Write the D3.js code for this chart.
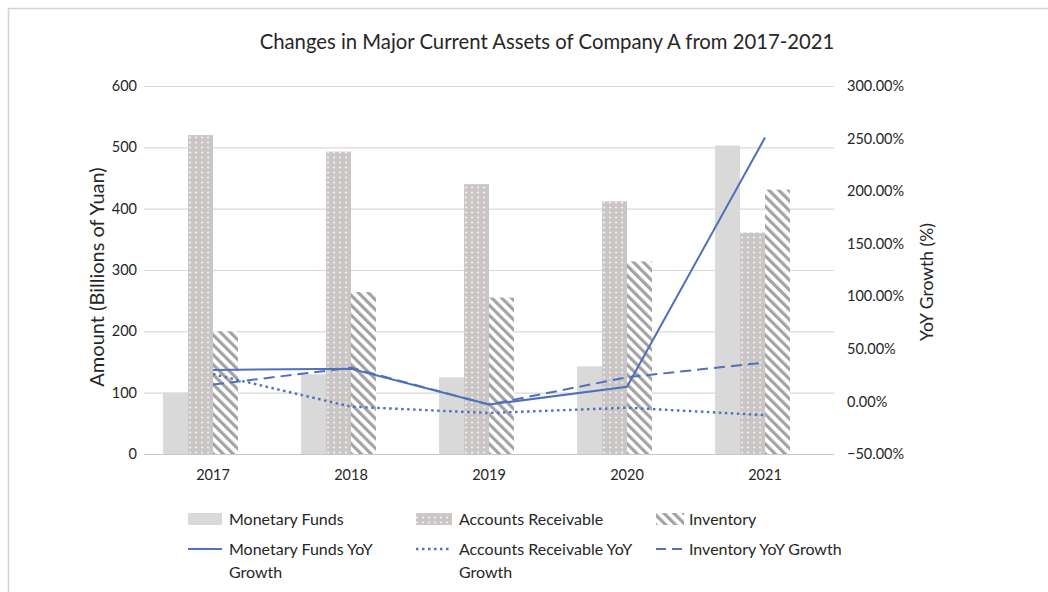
<!DOCTYPE html>
<html>
<head>
<meta charset="utf-8">
<script src="https://cdn.jsdelivr.net/npm/d3@7"></script>
<style>
  html, body { margin: 0; padding: 0; background: #fff; }
  svg text { font-family: Lato, "Open Sans", "Liberation Sans", sans-serif; fill: #262626; }
</style>
</head>
<body>
<svg id="chart" width="1048" height="592"></svg>
<script>
// Years on the category axis
const years = ["2017", "2018", "2019", "2020", "2021"];

// Balances, billions of yuan
const monetaryFunds = [100, 130, 125, 143, 503];
const accountsReceivable = [520, 493, 440, 412, 361];
const inventory = [200, 264, 255, 314, 431];

// Year-over-year growth, percent
const monetaryFundsYoY = [30, 31, -3, 14, 251];
const accountsReceivableYoY = [26, -5, -11, -6, -13];
const inventoryYoY = [16, 32, -3, 23, 37];

// Axis ticks
const amountTicks = [0, 100, 200, 300, 400, 500, 600];
const growthTicks = [-50, 0, 50, 100, 150, 200, 250, 300];

const barSeries = ["Monetary Funds", "Accounts Receivable", "Inventory"];
const lineSeries = ["Monetary Funds YoY Growth", "Accounts Receivable YoY Growth", "Inventory YoY Growth"];

const svg = d3.select("#chart");
const lineColor = "#5170b9";

// Frame
svg.append("rect")
  .attr("x", 8.5).attr("y", 8.5).attr("width", 1060).attr("height", 600)
  .attr("fill", "#fff").attr("stroke", "#d4d4d4").attr("stroke-width", 1.5);

// Fill patterns
const defs = svg.append("defs");
const dots = defs.append("pattern")
  .attr("id", "dots").attr("patternUnits", "userSpaceOnUse")
  .attr("width", 6).attr("height", 5);
dots.append("rect").attr("width", 6).attr("height", 5).attr("fill", "#cbc6c6");
dots.append("circle").attr("cx", 3).attr("cy", 2.5).attr("r", 1.1).attr("fill", "#f4f2f2");

const stripes = defs.append("pattern")
  .attr("id", "stripes").attr("patternUnits", "userSpaceOnUse")
  .attr("width", 7).attr("height", 7)
  .attr("patternTransform", "rotate(-45)");
stripes.append("rect").attr("width", 7).attr("height", 7).attr("fill", "#fff");
stripes.append("rect").attr("width", 3.2).attr("height", 7).attr("fill", "#a3a3a3");

const fills = ["#d9d9d9", "url(#dots)", "url(#stripes)"];
const dashes = [null, "2.5,3.5", "11,6"];

// Scales: each year has four bar slots, the last one left empty
const plotLeft = 144, plotRight = 834, plotTop = 86, plotBottom = 454;
const x = d3.scaleBand().domain(years).range([plotLeft, plotRight])
  .paddingInner(0.2764).paddingOuter(0.1382);
const xInner = d3.scaleBand().domain([...barSeries, ""]).range([0, x.bandwidth()]);
const yLeft = d3.scaleLinear().domain([0, 600]).range([plotBottom, plotTop]);
const yRight = d3.scaleLinear().domain([-50, 300]).range([plotBottom, plotTop]);

// Gridlines
svg.append("g").selectAll("line").data(amountTicks).join("line")
  .attr("x1", plotLeft).attr("x2", plotRight)
  .attr("y1", d => yLeft(d) + 0.5).attr("y2", d => yLeft(d) + 0.5)
  .attr("stroke", d => d === 0 ? "#c8c8c8" : "#d9d9d9").attr("stroke-width", 1.2);

// Left axis
const leftAxis = svg.append("g").attr("transform", `translate(${plotLeft},0)`)
  .call(d3.axisLeft(yLeft).tickValues(amountTicks).tickSize(0).tickPadding(7));
leftAxis.select(".domain").remove();
leftAxis.selectAll("text").attr("font-size", 14.5).style("font-family", null);

// Right axis
const rightAxis = svg.append("g").attr("transform", `translate(${plotRight},0)`)
  .call(d3.axisRight(yRight).tickValues(growthTicks).tickSize(0).tickPadding(13)
    .tickFormat(d => (d < 0 ? "\u2212" + Math.abs(d).toFixed(2) : d.toFixed(2)) + "%"));
rightAxis.select(".domain").remove();
rightAxis.selectAll("text").attr("font-size", 14.5).style("font-family", null);

// Category axis
const bottomAxis = svg.append("g").attr("transform", `translate(0,${plotBottom})`)
  .call(d3.axisBottom(x).tickSize(0).tickPadding(16));
bottomAxis.select(".domain").remove();
bottomAxis.selectAll("text").attr("font-size", 14.5).style("font-family", null);

// Bars
const barValues = [monetaryFunds, accountsReceivable, inventory];
const groups = svg.append("g").selectAll("g").data(years).join("g")
  .attr("transform", d => `translate(${x(d)},0)`);
groups.selectAll("rect")
  .data((yr, i) => barSeries.map((s, k) => ({ s, k, v: barValues[k][i] })))
  .join("rect")
  .attr("x", d => xInner(d.s))
  .attr("width", xInner.bandwidth())
  .attr("y", d => yLeft(d.v))
  .attr("height", d => yLeft(0) - yLeft(d.v))
  .attr("fill", d => fills[d.k]);

// Growth lines
const lineValues = [monetaryFundsYoY, accountsReceivableYoY, inventoryYoY];
const line = d3.line()
  .x((d, i) => x(years[i]) + x.bandwidth() / 2)
  .y(d => yRight(d));
lineValues.forEach((vals, k) => {
  svg.append("path").datum(vals)
    .attr("d", line)
    .attr("fill", "none")
    .attr("stroke", lineColor)
    .attr("stroke-width", k === 1 ? 2.4 : 2)
    .attr("stroke-dasharray", dashes[k]);
});

// Title
svg.append("text")
  .attr("x", 547).attr("y", 49).attr("text-anchor", "middle")
  .attr("font-size", 20.3).text("Changes in Major Current Assets of Company A from 2017-2021");

// Axis titles
svg.append("text")
  .attr("transform", "translate(104,277) rotate(-90)")
  .attr("text-anchor", "middle").attr("font-size", 20)
  .text("Amount (Billions of Yuan)");
svg.append("text")
  .attr("transform", "translate(933,282) rotate(-90)")
  .attr("text-anchor", "middle").attr("font-size", 17.5)
  .text("YoY Growth (%)");

// Legend
const swatchX = [188, 416, 656];
const swatchW = [34, 36, 28];
const textX = [229, 459, 689];
const legend = svg.append("g");
barSeries.forEach((name, k) => {
  legend.append("rect")
    .attr("x", swatchX[k]).attr("y", 513)
    .attr("width", swatchW[k]).attr("height", 12)
    .attr("fill", fills[k]);
  legend.append("text")
    .attr("x", textX[k]).attr("y", 525)
    .attr("font-size", 16).text(name);
});
const lineLabels = [["Monetary Funds YoY", "Growth"], ["Accounts Receivable YoY", "Growth"], ["Inventory YoY Growth"]];
lineSeries.forEach((name, k) => {
  legend.append("line")
    .attr("x1", swatchX[k]).attr("x2", swatchX[k] + swatchW[k])
    .attr("y1", 549).attr("y2", 549)
    .attr("stroke", lineColor).attr("stroke-width", k === 1 ? 2.4 : 2)
    .attr("stroke-dasharray", k === 2 ? "10,6" : dashes[k]);
  const t = legend.append("text")
    .attr("x", textX[k]).attr("y", 555).attr("font-size", 16);
  lineLabels[k].forEach((part, j) => {
    t.append("tspan").attr("x", textX[k]).attr("dy", j === 0 ? 0 : 23).text(part);
  });
});
</script>
</body>
</html>
